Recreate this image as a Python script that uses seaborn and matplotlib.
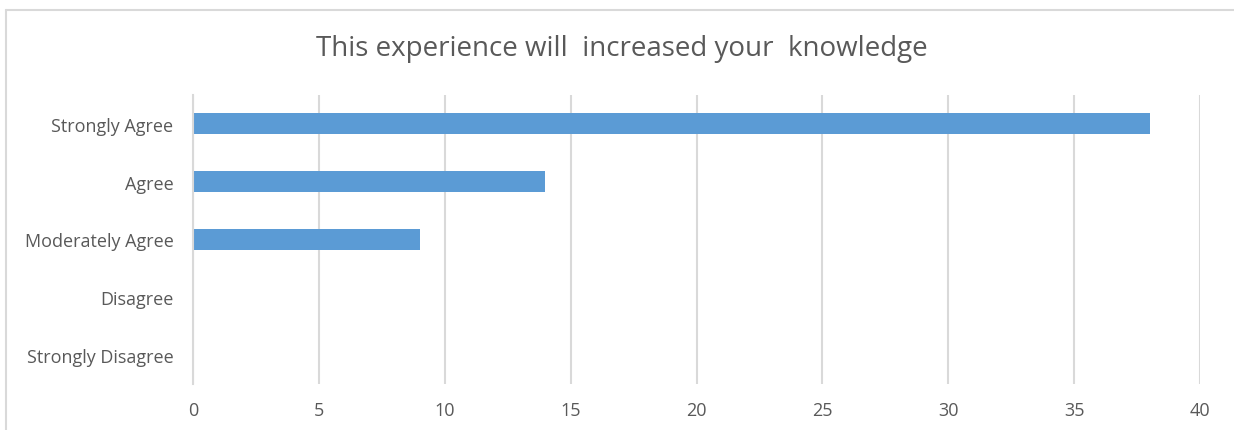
import matplotlib
matplotlib.use("Agg")
import matplotlib.pyplot as plt
from matplotlib.lines import Line2D
import seaborn as sns
import pandas as pd

categories = ["Strongly Agree", "Agree", "Moderately Agree", "Disagree", "Strongly Disagree"]
values = [38, 14, 9, 0, 0]
x_ticks = [0, 5, 10, 15, 20, 25, 30, 35, 40]
title = "This experience will  increased your  knowledge"

sns.set_theme(style="white")
plt.rcParams['font.family'] = ['Open Sans', 'DejaVu Sans']

df = pd.DataFrame({"category": categories, "value": values})

fig = plt.figure(figsize=(12.34, 4.31), dpi=100)
ax = fig.add_axes([193/1234, 1-385/431, (1200-193)/1234, (385-96)/431])

sns.barplot(data=df, y="category", x="value", order=categories, orient="h",
            color="#5B9BD5", width=0.36, saturation=1, linewidth=0, ax=ax)

ax.set_xlim(0, 40)
ax.set_ylim(len(categories)-0.5, -0.5)
ax.set_xticks(x_ticks)
ax.set_xticklabels([str(t) for t in x_ticks])
ax.set_xlabel("")
ax.set_ylabel("")
ax.xaxis.grid(True, color="#D9D9D9", linewidth=1.5)
ax.set_axisbelow(True)
for s in ["top", "right", "bottom"]:
    ax.spines[s].set_visible(False)
ax.spines["left"].set_color("#D9D9D9")
ax.spines["left"].set_linewidth(1.5)
ax.tick_params(axis="both", length=0, colors="#595959", labelsize=13)
ax.tick_params(axis="y", pad=14)
ax.tick_params(axis="x", pad=12)

fig.text(0.5036, 1-49/431, title, ha="center", va="center", fontsize=20, color="#595959")

fig.add_artist(Line2D([5.5/1234, 1.0], [1-10.5/431, 1-10.5/431], color="#D9D9D9", linewidth=1.5, transform=fig.transFigure))
fig.add_artist(Line2D([5.5/1234, 5.5/1234], [0, 1-10.5/431], color="#D9D9D9", linewidth=1.5, transform=fig.transFigure))

fig.savefig("out.png", dpi=100)
